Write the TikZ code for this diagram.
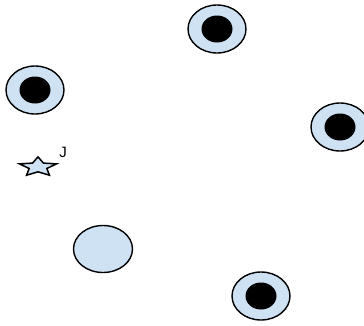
\documentclass[tikz,border=0pt]{standalone}
\usepackage{fontspec}
\setsansfont{Liberation Sans}
\usepackage{tikz}
\usetikzlibrary{shapes.geometric,positioning}
\definecolor{DotBlue}{HTML}{CFE2F3}
\tikzset{
  ring/.style={ellipse,draw=black,line width=1.4pt,fill=DotBlue,minimum width=58pt,minimum height=48pt,inner sep=0pt},
  core/.style={ellipse,fill=black,minimum width=31pt,minimum height=27pt,inner sep=0pt},
  plain/.style={ellipse,draw=black,line width=1.4pt,fill=DotBlue,minimum width=59pt,minimum height=47pt,inner sep=0pt},
  starmark/.style={star,star points=5,star point ratio=2.1,draw=black,line width=1.5pt,fill=DotBlue,minimum size=39pt,inner sep=0pt,yscale=0.52,transform shape},
  tag/.style={font=\sffamily\fontsize{15}{17}\selectfont,inner sep=1pt},
}
\begin{document}
\begin{tikzpicture}[x=1pt,y=-1pt]
  \useasboundingbox (0,0) rectangle (364,325);
  \node[ring] (top) at (217,29) {};
  \node[core] (topc) at (top.center) {};
  \node[ring] (left) at (35,90) {};
  \node[core] (leftc) at (left.center) {};
  \node[ring] (right) at (340,127) {};
  \node[core] (rightc) at (right.center) {};
  \node[ring] (bottom) at (261,296) {};
  \node[core] (bottomc) at (bottom.center) {};
  \node[plain] (empty) at (103,249) {};

  \node[starmark] (j) at (38,167) {};
  \node[tag] (jlabel) at (63,152) {J};
\end{tikzpicture}
\end{document}
